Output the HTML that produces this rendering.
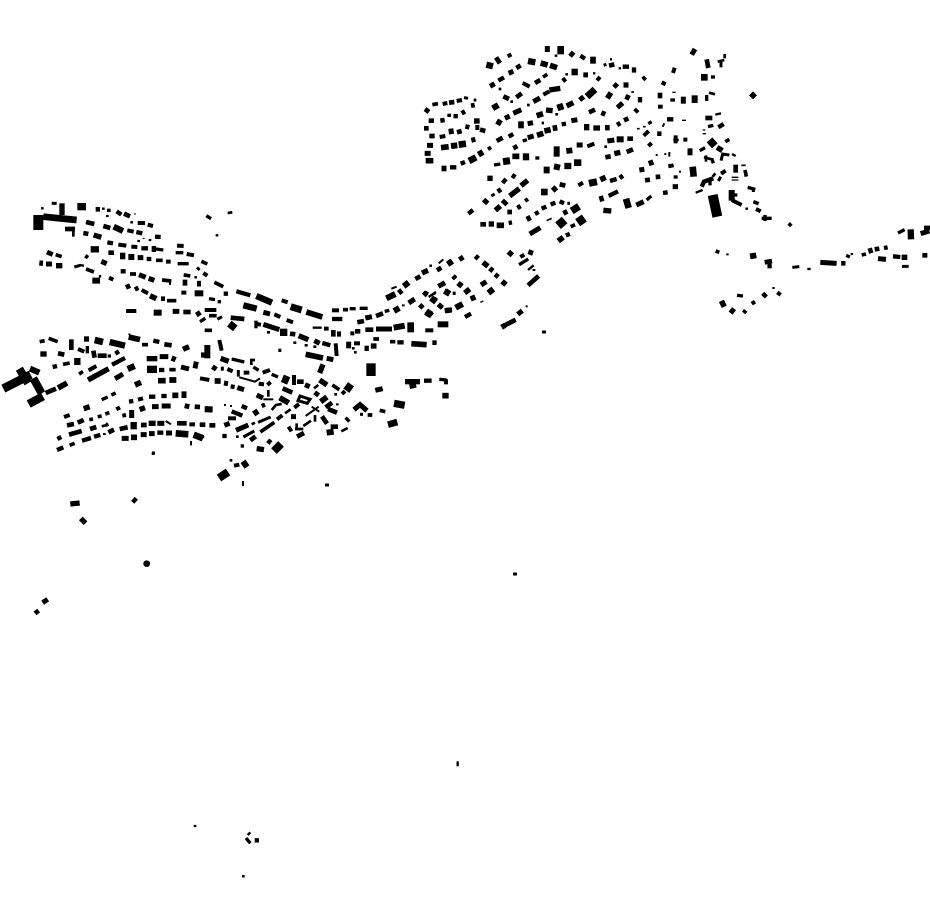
<!DOCTYPE html>
<html><head><meta charset="utf-8"><title>Map</title>
<style>html,body{margin:0;padding:0;background:#fff;width:930px;height:924px;overflow:hidden}svg{display:block}path{fill:none;stroke:#000}</style></head>
<body>
<svg width="930" height="924" viewBox="0 0 930 924" xmlns="http://www.w3.org/2000/svg">
<g transform="translate(0,195) scale(.33333)">
<path stroke-width="30" d="M115 60V105"/><path stroke-width="20" d="M130 65L230 75"/><path stroke-width="16" d="M186 25V60"/><path stroke-width="14" d="M195 102H225"/><path stroke-width="8" d="M220 95V125"/>
<path stroke-width="9" d="M155 25H170"/><path stroke-width="7" d="M123 40h8M318 63h8M306 41h8M391 82h8M412 138h8M446 135h8M583 247h8M647 121h8"/><path stroke-width="3" d="M402 57h6M428 130h6"/>
<path stroke-width="22" d="M232 35H258"/><path stroke-width="14" d="M287 43H300M372 56L390 64M310 93L331 99M258 81L283 87M250 114L265 117"/><path stroke-width="10" d="M321 46H332"/><path stroke-width="13" d="M350 49L364 59M409 111L427 115M424 160H444M322 142L339 145"/>
<path stroke-width="12" d="M413 84H435M443 89L459 93M382 106L401 110M355 149L379 152M394 155L412 156M531 152L551 153M256 182L264 188M560 177L582 181"/>
<path stroke-width="18" d="M341 95L369 108"/><path stroke-width="16" d="M281 120L304 127"/><path stroke-width="13" d="M465 125L482 126"/>
<path stroke-width="18" d="M455 162H468M385 186H403"/><path stroke-width="10" d="M468 162L490 165M527 173H550M533 206H566"/><path stroke-width="19" d="M272 163H297"/><path stroke-width="14" d="M325 173H342M141 171L158 179"/>
<path stroke-width="11" d="M167 179L185 185M468 196L488 196M604 199L622 207M592 224L598 218M390 237L408 237M551 240L571 243M258 222L282 231"/><path stroke-width="20" d="M360 183H376"/><path stroke-width="15" d="M413 188H430M304 199L320 206M417 239L437 247M446 250L463 256"/><path stroke-width="13" d="M440 192H454M362 229H377"/><path stroke-width="12" d="M498 200H512M610 234L622 242"/>
<path stroke-width="16" d="M118 204L129 205M168 212H187"/><path stroke-width="15" d="M138 207H156"/><path stroke-width="9" d="M223 216L241 211"/><path stroke-width="7" d="M238 210L252 212M300 240v8"/>
<path stroke-width="11" d="M486 255L514 258"/><path stroke-width="6" d="M510 255V270"/><path stroke-width="18" d="M548 263H562M277 257H300"/><path stroke-width="17" d="M591 266H603"/><path stroke-width="12" d="M327 248L340 254M425 285L444 295"/>
<path stroke-width="14" d="M381 268L387 281M483 311H495"/><path stroke-width="12" d="M407 275L413 287M544 293H559"/><path stroke-width="16" d="M450 302L469 311"/><path stroke-width="11" d="M501 317H529"/><path stroke-width="18" d="M584 295H610"/>
<path stroke-width="12" d="M378 348H409"/><path stroke-width="18" d="M461 353H485"/><path stroke-width="15" d="M518 349H538M589 360L601 352"/><path stroke-width="14" d="M550 351H572"/>
<path stroke-width="10" d="M619 62L633 71"/><path stroke-width="8" d="M683 54L697 52"/><path stroke-width="5" d="M385 418h6"/>
</g>
<g transform="translate(0,330) scale(.33333)">
<path stroke-width="11" d="M119 35L134 32M146 25L173 35"/><path stroke-width="16" d="M252 27H267"/><path stroke-width="20" d="M284 30L309 36"/><path stroke-width="19" d="M329 36L375 47"/><path stroke-width="14" d="M214 28V60M293 77H320M280 62L284 83"/><path stroke-width="12" d="M234 57L253 65"/><path stroke-width="10" d="M262 48V70M323 78h10"/><path stroke-width="13" d="M346 71L357 64"/>
<path stroke-width="17" d="M386 21L420 29"/><path stroke-width="11" d="M426 44H444"/><path stroke-width="13" d="M460 32L478 36"/><path stroke-width="14" d="M493 43L515 46"/><path stroke-width="16" d="M549 58L567 50"/>
<path stroke-width="16" d="M121 72H140"/><path stroke-width="14" d="M174 70L193 74"/><path stroke-width="13" d="M158 111L171 108"/><path stroke-width="11" d="M189 103L209 99"/><path stroke-width="19" d="M232 84V105"/><path stroke-width="13" d="M336 104L375 84"/>
<path stroke-width="16" d="M440 86H472"/><path stroke-width="15" d="M479 80H505M585 115L589 95M543 111L567 117"/><path stroke-width="16" d="M515 84L527 89"/><path stroke-width="22" d="M441 118H471"/><path stroke-width="13" d="M477 120H493"/><path stroke-width="11" d="M508 119H527"/>
<path stroke-width="19" d="M383 117L404 108"/><path stroke-width="12" d="M266 121L289 108"/><path stroke-width="14" d="M240 124L246 133"/><path stroke-width="16" d="M264 150L326 116"/><path stroke-width="15" d="M345 146L369 132"/><path stroke-width="17" d="M405 165L423 157M474 152H497M508 150H529"/>
<path stroke-width="26" d="M10 176L92 134"/><path stroke-width="24" d="M58 116L84 160"/><path stroke-width="18" d="M90 116L118 128"/><path stroke-width="24" d="M100 145L125 190"/><path stroke-width="25" d="M86 222L129 199"/><path stroke-width="14" d="M137 189L168 176"/><path stroke-width="17" d="M174 174L201 159"/>
<path stroke-width="12" d="M192 261L209 255M349 238L360 232M367 257L378 255"/><path stroke-width="16" d="M251 236L269 230M419 239L435 233"/><path stroke-width="10" d="M305 209L323 201"/><path stroke-width="11" d="M334 195L347 189"/><path stroke-width="13" d="M387 215L400 213M447 200H466M484 198H500"/><path stroke-width="12" d="M414 209L429 205"/><path stroke-width="17" d="M517 196H535"/><path stroke-width="15" d="M552 184V204M395 240V264M456 230H476M485 228H512M554 227L568 230"/><path stroke-width="14" d="M584 230L600 231"/><path stroke-width="17" d="M616 236L636 240"/>
<path stroke-width="14" d="M201 286L222 282M233 278L251 270M270 297L289 291M207 314L245 303M325 307L342 299M359 297L383 292M423 285H440M531 280H560M629 286H645"/><path stroke-width="11" d="M268 269L279 267M293 260L305 258M316 252L328 248"/><path stroke-width="13" d="M172 327L184 321M246 332L273 324M282 320L301 315M171 360L190 352"/><path stroke-width="8" d="M305 289L326 284"/><path stroke-width="6" d="M320 278V290M497 273L513 283M309 312h8"/><path stroke-width="19" d="M401 276V298"/><path stroke-width="16" d="M446 280H467"/><path stroke-width="15" d="M472 280H493"/><path stroke-width="12" d="M568 283H585M599 284H615"/>
<path stroke-width="11" d="M209 346L224 340"/><path stroke-width="15" d="M365 325H386M422 314H440M447 311H464M498 309H516"/><path stroke-width="17" d="M393 322H411"/><path stroke-width="13" d="M472 308H490"/><path stroke-width="20" d="M527 310L565 313M581 314L609 325"/><path stroke-width="4" d="M573 335V347"/><path stroke-width="8" d="M455 371h8"/>
</g>
<g transform="translate(200,280) scale(.33333)">
<path stroke-width="11" d="M43 7L70 20"/><path stroke-width="13" d="M71 41H84"/><path stroke-width="10" d="M27 56L45 59M53 65H63"/>
<path stroke-width="13" d="M109 34L151 46"/><path stroke-width="19" d="M169 48L216 68M130 76L170 86"/><path stroke-width="12" d="M245 61L263 67M14 90H49M260 120L279 127"/><path stroke-width="21" d="M272 80L305 90"/><path stroke-width="17" d="M319 96L367 111"/><path stroke-width="12" d="M396 91H417"/><path stroke-width="11" d="M429 89H444M27 107H50M14 151H36"/><path stroke-width="10" d="M449 86H467M479 85H503"/><path stroke-width="15" d="M190 97L210 102"/><path stroke-width="12" d="M223 103L241 111"/><path stroke-width="9" d="M52 118L66 110"/><path stroke-width="14" d="M92 113L133 117"/><path stroke-width="22" d="M88 131L106 145"/><path stroke-width="10" d="M0 125L16 115"/><path stroke-width="12" d="M164 131L183 134"/><path stroke-width="10" d="M168 122V145"/>
<path stroke-width="15" d="M190 133L238 149"/><path stroke-width="8" d="M201 157h9M280 188h9M314 196h9M340 200h9"/><path stroke-width="22" d="M240 157H262"/><path stroke-width="14" d="M270 161L286 163M400 150V170M465 154H481M496 149H520"/><path stroke-width="16" d="M296 167L325 179"/><path stroke-width="7" d="M338 143H365"/><path stroke-width="12" d="M372 146H386M407 190L410 228M417 154V170M451 160H463"/><path stroke-width="15" d="M343 182L359 190M528 147H576"/><path stroke-width="13" d="M367 189L391 196"/><path stroke-width="18" d="M581 143L614 137"/><path stroke-width="20" d="M632 127V157"/><path stroke-width="12" d="M676 151H700"/>
<path stroke-width="13" d="M396 117H427"/><path stroke-width="14" d="M472 127L492 123"/><path stroke-width="15" d="M496 114L516 110"/>
<path stroke-width="15" d="M673 38L683 44"/><path stroke-width="6" d="M686 50L706 40"/><path stroke-width="18" d="M695 55L709 63M733 33L749 41"/><path stroke-width="13" d="M660 75L669 83"/><path stroke-width="12" d="M715 73L727 85M767 82L778 74"/><path stroke-width="21" d="M678 95L694 105"/><path stroke-width="16" d="M735 92L755 90"/><path stroke-width="18" d="M713 133H745"/>
<path stroke-width="18" d="M22 195V235"/><path stroke-width="16" d="M3 225H22M62 235L86 244"/><path stroke-width="12" d="M58 180L65 212"/><path stroke-width="10" d="M95 237L133 246M160 261L176 271M215 283L234 291"/><path stroke-width="8" d="M150 240H165M154 240V255"/><path stroke-width="12" d="M188 278L210 270M82 267L98 274M131 278H148M176 311L192 313M0 295L28 300"/><path stroke-width="15" d="M37 260L49 268M72 309L84 311M112 323L132 329M315 314L329 320"/><path stroke-width="9" d="M67 260V272M115 270V290"/><path stroke-width="6" d="M118 292L165 305L180 295"/><path stroke-width="13" d="M203 306L211 315M92 319L104 321"/><path stroke-width="17" d="M44 303H62"/>
<path stroke-width="24" d="M247 295L266 303"/><path stroke-width="12" d="M282 285V315"/><path stroke-width="14" d="M291 305H311M248 325L277 338M344 337L356 346"/><path stroke-width="8" d="M342 325L355 315"/><path stroke-width="16" d="M359 300L381 315"/><path stroke-width="11" d="M397 315L418 329"/><path stroke-width="24" d="M437 316L455 329"/><path stroke-width="12" d="M426 342L435 333"/><path stroke-width="8" d="M403 343h8"/>
<path stroke-width="15" d="M170 345L189 354"/><path stroke-width="8" d="M205 330V350"/><path stroke-width="6" d="M190 358H220"/><path stroke-width="17" d="M239 353L266 369"/><path stroke-width="9" d="M300 348L330 358L322 370L294 362Z"/><path stroke-width="17" d="M362 365L381 351"/><path stroke-width="13" d="M185 378L195 374M125 378L141 385M95 394L127 407"/><path stroke-width="8" d="M215 390L228 375L245 372"/><path stroke-width="12" d="M283 383L297 372"/><path stroke-width="6" d="M72 375h6M90 378h6M408 373h8"/><path stroke-width="14" d="M377 382L396 368M384 387L411 398"/><path stroke-width="17" d="M161 402L174 393"/><path stroke-width="18" d="M14 388H38"/><path stroke-width="12" d="M84 415L108 415"/>
<path stroke-width="15" d="M273 410H288M73 436L89 430M108 451L145 435"/><path stroke-width="8" d="M255 400L272 388M155 433L165 428"/><path stroke-width="12" d="M231 418L247 406"/><path stroke-width="9" d="M174 427L212 411M130 471L163 453"/><path stroke-width="14" d="M0 434H16M151 481L167 469M1 468L9 476M203 481L213 489"/><path stroke-width="13" d="M28 436H46M67 468H80"/><path stroke-width="8" d="M108 470h8"/><path stroke-width="11" d="M181 456L223 427"/>
<path stroke-width="6" d="M317 408L356 380"/><path stroke-width="6" d="M335 380L358 395"/><path stroke-width="10" d="M437 413L448 425"/><path stroke-width="14" d="M366 409L381 431"/><path stroke-width="8" d="M345 405V425M310 438L333 422M290 430V450M285 447H310M424 454L443 444"/><path stroke-width="17" d="M265 450L275 444"/><path stroke-width="14" d="M291 470L312 459M392 440H414"/><path stroke-width="18" d="M380 458L401 455"/>
<path stroke-width="10" d="M122 498h10"/><path stroke-width="16" d="M170 506L192 509"/><path stroke-width="30" d="M224 494L241 511"/><path stroke-width="8" d="M89 541h8"/><path stroke-width="12" d="M102 557L118 554"/><path stroke-width="18" d="M129 544L141 561"/><path stroke-width="10" d="M235 211h9"/><path stroke-width="16" d="M369 253L359 279"/><path stroke-width="28" d="M513 250V288"/>
<path stroke-width="17" d="M317 223L369 234"/><path stroke-width="15" d="M380 235L400 239"/><path stroke-width="15" d="M446 185V205"/><path stroke-width="8" d="M456 205h8M462 217h8"/><path stroke-width="12" d="M462 190H480"/><path stroke-width="13" d="M500 197V213"/><path stroke-width="17" d="M521 190V206"/><path stroke-width="11" d="M520 177H537M570 185H586"/><path stroke-width="13" d="M592 187H611"/><path stroke-width="17" d="M634 191L680 194"/><path stroke-width="14" d="M697 188H710"/>
<path stroke-width="15" d="M526 331L548 326"/><path stroke-width="15" d="M462 389L480 374L501 392"/><path stroke-width="11" d="M503 405H517M539 391L556 395"/><path stroke-width="9" d="M480 403h9"/><path stroke-width="22" d="M582 370L614 376"/><path stroke-width="20" d="M564 434L592 426"/><path stroke-width="16" d="M615 305H660"/><path stroke-width="20" d="M635 300L640 325"/><path stroke-width="13" d="M672 302H695"/><path stroke-width="10" d="M718 298L740 300"/><path stroke-width="12" d="M738 298V313"/><path stroke-width="17" d="M727 347H746"/>
</g>
<g transform="translate(370,240) scale(.33333)">
<path stroke-width="16" d="M415 35L427 46M339 67L354 79M264 129L276 139M284 159L299 147M302 177L316 171M396 124L408 134"/><path stroke-width="12" d="M451 51L463 44"/><path stroke-width="15" d="M475 35L489 40M268 59L280 51M316 48L325 56M359 85L369 93M116 189L134 177M249 108L257 116M333 135L349 125M205 139L225 128M205 193L217 203"/><path stroke-width="10" d="M447 74L475 57"/><path stroke-width="7" d="M474 90L491 76M178 77h8"/><path stroke-width="14" d="M474 136L506 108M375 103L385 111M136 117L151 109M201 91L214 83M224 211L246 209M18 228L39 220"/><path stroke-width="18" d="M233 73L247 63M355 159L370 147M49 175L76 162M183 174L198 186M169 213L186 227M257 203L278 192"/><path stroke-width="6" d="M206 70L220 58M64 146L80 140M96 196h8M488 90h8"/><path stroke-width="16" d="M156 99L174 91M86 159L96 151"/><path stroke-width="18" d="M101 139L116 127M226 153L239 162M72 213L88 204"/><path stroke-width="10" d="M44 214L58 211M248 160h9"/><path stroke-width="4" d="M331 187L340 183"/><path stroke-width="13" d="M160 156L171 167M285 231L303 221"/><path stroke-width="7" d="M176 171L198 156"/><path stroke-width="14" d="M149 194L159 204"/>
<path stroke-width="14" d="M395 261L437 239"/><path stroke-width="12" d="M396 252L404 266"/><path stroke-width="15" d="M443 223L457 212"/><path stroke-width="6" d="M467 199h6"/><path stroke-width="9" d="M519 276h8"/>
</g>
<g transform="translate(420,40) scale(.33333)">
<path stroke-width="15" d="M382 18V36"/><path stroke-width="20" d="M422 18V43"/><path stroke-width="7" d="M404 47h8M570 58h6M596 85h7M436 103h8M519 100h7"/><path stroke-width="16" d="M450 38L461 47"/><path stroke-width="13" d="M481 47L495 56"/><path stroke-width="17" d="M519 50V71"/><path stroke-width="9" d="M551 76L559 73"/><path stroke-width="14" d="M567 77L583 73"/><path stroke-width="13" d="M608 80H627M642 82V98"/><path stroke-width="11" d="M668 110L677 120"/>
<path stroke-width="19" d="M199 74L219 79"/><path stroke-width="21" d="M228 65L240 57"/><path stroke-width="12" d="M263 49L274 43"/><path stroke-width="19" d="M324 63L346 67"/><path stroke-width="17" d="M362 69L383 75M390 76L411 83"/>
<path stroke-width="14" d="M289 84L302 76"/><path stroke-width="15" d="M266 100L280 94M210 139L224 131"/><path stroke-width="13" d="M235 122L252 112"/><path stroke-width="8" d="M236 147h8M321 195h8M271 185h8"/>
<path stroke-width="12" d="M308 129L329 140"/><path stroke-width="14" d="M345 129L361 120M428 123L437 116M497 97V112M531 112L540 120"/><path stroke-width="11" d="M369 111L382 103"/><path stroke-width="19" d="M464 86V106"/>
<path stroke-width="16" d="M388 150L421 145"/><path stroke-width="12" d="M370 164L388 154"/><path stroke-width="15" d="M340 185L360 174"/><path stroke-width="14" d="M289 172L305 160M250 169L267 177"/><path stroke-width="18" d="M218 205L235 195"/><path stroke-width="15" d="M280 220L304 209M255 235L269 228"/><path stroke-width="17" d="M230 243L244 251"/>
<path stroke-width="21" d="M501 170L525 148"/><path stroke-width="15" d="M479 180L491 170"/><path stroke-width="16" d="M440 198L460 188M378 210L398 212"/><path stroke-width="20" d="M412 204L430 198"/><path stroke-width="17" d="M350 227L369 221"/><path stroke-width="8" d="M406 223h8M365 249h7"/><path stroke-width="15" d="M323 251L339 248"/><path stroke-width="17" d="M303 244V265"/><path stroke-width="13" d="M266 290L280 282"/><path stroke-width="14" d="M230 303L248 293"/>
<path stroke-width="15" d="M454 242L472 239M323 293L341 288"/><path stroke-width="13" d="M425 253L438 251"/><path stroke-width="17" d="M398 265L412 263M373 273L392 269M351 286L370 280"/><path stroke-width="10" d="M308 303L321 299"/><path stroke-width="14" d="M280 325L292 318"/><path stroke-width="11" d="M204 328L213 322"/><path stroke-width="18" d="M175 344L189 336"/><path stroke-width="20" d="M147 363L168 352"/><path stroke-width="13" d="M122 371L135 366M90 382H109"/><path stroke-width="15" d="M72 377V394"/>
<path stroke-width="11" d="M37 194L54 191"/><path stroke-width="12" d="M68 192L82 189M110 183L126 180"/><path stroke-width="14" d="M87 188L103 186M15 207L27 216M153 197L164 195M26 242H42M61 242L74 240M125 220L135 214M12 265H26M28 288H44M111 277L125 273M136 259L148 262M180 269L196 273"/><path stroke-width="9" d="M132 173L144 175M161 180h8"/><path stroke-width="10" d="M82 226H93"/><path stroke-width="13" d="M107 222V235"/><path stroke-width="16" d="M162 243H179"/><path stroke-width="12" d="M59 291L76 288"/><path stroke-width="17" d="M86 275L101 273M63 323L86 320M17 362H40"/><path stroke-width="12" d="M172 255V270"/><path stroke-width="15" d="M21 316H39M14 340H32M154 301L166 298"/><path stroke-width="18" d="M93 318L112 316"/><path stroke-width="20" d="M116 314L138 311"/>
<path stroke-width="14" d="M582 142L592 131M507 217L525 209M591 255L601 249M612 241L625 235"/><path stroke-width="15" d="M618 127V143M592 203L608 189M645 216L653 208M544 218L556 223"/><path stroke-width="5" d="M634 156h8M651 266h8M669 260h8"/><path stroke-width="16" d="M562 175L573 158M500 252V271M520 264H540"/><path stroke-width="14" d="M619 179L626 165M562 255V271"/><path stroke-width="13" d="M660 171V187M686 309L694 318"/><path stroke-width="10" d="M685 251L695 245"/><path stroke-width="12" d="M671 287L686 273"/><path stroke-width="14" d="M622 296H639M620 336L639 328M556 352L572 349"/><path stroke-width="18" d="M590 298H611"/><path stroke-width="15" d="M562 303L583 300"/><path stroke-width="8" d="M553 320h8"/><path stroke-width="16" d="M583 341L601 337"/>
<path stroke-width="18" d="M410 319V350"/><path stroke-width="17" d="M439 333L457 331"/><path stroke-width="15" d="M470 315H488"/><path stroke-width="12" d="M502 319L523 311"/><path stroke-width="10" d="M346 354H358"/><path stroke-width="19" d="M318 340V361"/><path stroke-width="17" d="M277 349H298"/><path stroke-width="21" d="M249 365L270 362"/><path stroke-width="10" d="M222 375L241 372"/>
<path stroke-width="18" d="M380 380V400M402 379L420 383"/><path stroke-width="19" d="M433 378H454"/><path stroke-width="20" d="M462 368H484"/>
<path stroke-width="16" d="M210 407V423M248 419L258 427M303 437L323 421M269 468L298 446M226 511L241 498"/><path stroke-width="14" d="M276 405L286 412M233 455L243 448M247 481L261 494M292 504L302 498M262 516H276"/><path stroke-width="9" d="M214 468L224 462"/><path stroke-width="17" d="M192 490L202 479"/><path stroke-width="12" d="M315 483L324 477"/><path stroke-width="13" d="M145 521L159 510"/><path stroke-width="14" d="M181 553H198"/><path stroke-width="16" d="M206 552H222"/><path stroke-width="17" d="M230 556H252"/><path stroke-width="13" d="M266 549L276 547"/>
<path stroke-width="20" d="M373 446V466"/><path stroke-width="15" d="M398 441L409 453"/><path stroke-width="14" d="M419 433L436 437M599 414L609 407"/><path stroke-width="12" d="M475 436L489 428"/><path stroke-width="21" d="M507 430L531 425"/><path stroke-width="17" d="M541 419L557 412M538 478L551 474"/><path stroke-width="13" d="M570 423L590 417M566 468L594 454"/><path stroke-width="16" d="M550 511L574 513"/><path stroke-width="20" d="M618 476L626 504"/><path stroke-width="15" d="M649 495L671 485"/><path stroke-width="10" d="M680 480L694 468"/>
<path stroke-width="16" d="M320 538L332 532"/><path stroke-width="13" d="M345 522L356 516M365 506L379 500M392 494L406 488M419 484L432 490"/><path stroke-width="9" d="M442 490h8"/><path stroke-width="15" d="M430 520L442 514M329 582L361 563"/><path stroke-width="22" d="M455 513L477 499"/><path stroke-width="5" d="M380 542L395 535"/><path stroke-width="26" d="M414 557L434 540"/><path stroke-width="11" d="M452 560L465 554"/><path stroke-width="26" d="M473 548L493 534"/><path stroke-width="19" d="M417 591L427 604"/><path stroke-width="13" d="M441 578L446 590"/>
<path stroke-width="15" d="M658 390L673 388"/><path stroke-width="16" d="M686 371L700 366"/><path stroke-width="14" d="M675 421L690 419"/>
</g>
<g transform="translate(630,40) scale(.33333)">
<path stroke-width="15" d="M185 44L195 27"/><path stroke-width="14" d="M230 58L235 84"/><path stroke-width="8" d="M263 65L283 60M284 42V55"/><path stroke-width="9" d="M273 65L273 82"/><path stroke-width="12" d="M134 83L129 99M95 127L107 133"/><path stroke-width="20" d="M223 102V122"/><path stroke-width="10" d="M243 111H255"/><path stroke-width="17" d="M363 160L375 172"/>
<path stroke-width="14" d="M90 158V175"/><path stroke-width="4" d="M127 157H137M156 241H168M218 270H226M218 281H228M305 412H325M305 420H325"/><path stroke-width="10" d="M121 180H135M230 165V183"/><path stroke-width="15" d="M160 170V191"/><path stroke-width="18" d="M194 166V189"/><path stroke-width="8" d="M237 158L255 163"/><path stroke-width="12" d="M84 200H98"/><path stroke-width="13" d="M111 238H130M88 274V288"/><path stroke-width="14" d="M226 234H247"/><path stroke-width="7" d="M256 224L273 220"/><path stroke-width="10" d="M234 260L250 256"/><path stroke-width="13" d="M265 262L281 252"/><path stroke-width="6" d="M98 260L103 250M118 336V350M103 342h6M77 345h6"/><path stroke-width="12" d="M137 286V310M160 299H172"/><path stroke-width="8" d="M130 300H146"/><path stroke-width="24" d="M238 316L255 301"/><path stroke-width="11" d="M286 305L298 298"/><path stroke-width="10" d="M209 332L225 323"/><path stroke-width="16" d="M261 322L277 332"/><path stroke-width="15" d="M180 325V346"/><path stroke-width="9" d="M273 362L278 342L298 345"/><path stroke-width="7" d="M306 342L317 348"/><path stroke-width="8" d="M222 352L245 358M228 346V365"/><path stroke-width="10" d="M245 355L250 370"/>
<path stroke-width="12" d="M115 379L131 376M273 401L287 392"/><path stroke-width="20" d="M188 380L191 410"/><path stroke-width="6" d="M147 395h6"/><path stroke-width="10" d="M131 411H143"/><path stroke-width="14" d="M77 411L91 410"/><path stroke-width="15" d="M128 440H144"/><path stroke-width="13" d="M99 459L113 457"/><path stroke-width="9" d="M265 423L272 410"/><path stroke-width="8" d="M248 410L256 400"/><path stroke-width="13" d="M215 440L222 425L250 415"/><path stroke-width="10" d="M240 418V436"/><path stroke-width="7" d="M197 458L218 450"/><path stroke-width="14" d="M317 374V398"/><path stroke-width="5" d="M334 376H347"/><path stroke-width="11" d="M345 390L349 410"/><path stroke-width="30" d="M248 465L262 530"/><path stroke-width="18" d="M305 450V482"/><path stroke-width="12" d="M305 480L335 495M378 507L392 514"/><path stroke-width="10" d="M300 465H322M353 442L376 448M395 535L425 535M405 525V543"/><path stroke-width="9" d="M370 445V456"/><path stroke-width="11" d="M370 485L386 491M476 550L484 558"/><path stroke-width="7" d="M346 506h8"/>
</g>
<g transform="translate(700,220) scale(.33333)">
<path stroke-width="11" d="M47 93L58 97"/><path stroke-width="6" d="M79 103h7M452 102h7M217 204h7"/><path stroke-width="19" d="M158 99L161 116"/><path stroke-width="14" d="M194 127L216 123"/><path stroke-width="13" d="M208 118L209 145"/><path stroke-width="9" d="M277 142L298 140M606 139H626"/><path stroke-width="7" d="M322 147H332"/><path stroke-width="15" d="M361 127L410 130M534 116L558 118"/><path stroke-width="13" d="M430 123V137M552 84L563 82M579 109L601 111"/><path stroke-width="12" d="M442 113L446 104"/><path stroke-width="11" d="M485 105L498 102"/><path stroke-width="16" d="M505 94L518 90M605 112H622"/><path stroke-width="14" d="M524 88L538 86M667 106H682M672 24H690"/><path stroke-width="10" d="M594 39L614 29"/><path stroke-width="19" d="M632 28L633 58"/><path stroke-width="15" d="M662 41L688 33"/>
<path stroke-width="20" d="M61 255L76 248"/><path stroke-width="17" d="M91 268L103 277"/><path stroke-width="10" d="M129 271L139 279M111 226L129 228"/><path stroke-width="12" d="M155 251L165 245M232 217L242 225"/><path stroke-width="13" d="M188 220L199 231"/>
</g>
<g transform="translate(20,470) scale(.33333)">
<path stroke-width="16" d="M151 102L179 99"/><path stroke-width="20" d="M184 158L195 147"/><path stroke-width="13" d="M338 97L349 85"/><path stroke-width="20" stroke-linecap="round" d="M380 281h.1"/><path stroke-width="15" d="M68 398L83 388"/><path stroke-width="14" d="M45 430L56 422"/>
</g>
<g transform="translate(180,750) scale(.33333)">
<path stroke-width="7" d="M833 34V49"/><path stroke-width="7" d="M41 228h8M186 379h8"/><path stroke-width="7" d="M203 255L211 247"/><path stroke-width="10" d="M198 264L211 280"/><path stroke-width="13" d="M224 271H237"/>
</g>
<path stroke-width="8" d="M219 478L228 472"/><path stroke-width="2" d="M243 481V486M191 441v4"/><path stroke-width="3" d="M152 453h3M325 485h4M513 574h4M542 332h4"/>
</svg>
</body></html>
